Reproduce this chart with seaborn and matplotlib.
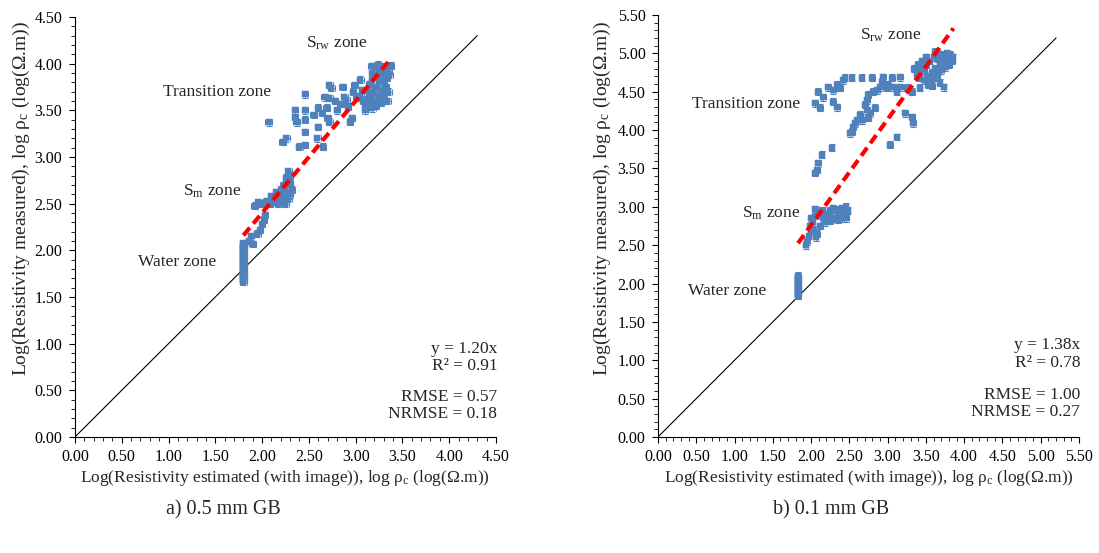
import matplotlib
matplotlib.use("Agg")
import matplotlib.pyplot as plt
from matplotlib.ticker import MultipleLocator, FormatStrFormatter
import seaborn as sns
import pandas as pd

sns.set_style("ticks")
plt.rcParams['font.family'] = ['Liberation Serif', 'DejaVu Serif']
plt.rcParams['mathtext.fontset'] = 'custom'
plt.rcParams['mathtext.rm'] = 'Liberation Serif'
plt.rcParams['mathtext.it'] = 'Liberation Serif:italic'

BLUE = '#4F81BD'

# ---------------- Panel a) 0.5 mm GB ----------------
a_water_x = [1.80] * 22
a_water_y = [1.66, 1.68, 1.70, 1.72, 1.74, 1.76, 1.78, 1.80, 1.82, 1.84, 1.86,
             1.88, 1.90, 1.92, 1.94, 1.96, 1.98, 2.00, 2.02, 2.04, 2.06, 2.08]

a_sm_x = [1.86, 1.90, 1.88, 1.95, 1.98, 2.00, 2.02, 2.03, 1.92, 1.96, 2.00, 2.05,
          2.08, 2.12, 2.15, 2.10, 2.18, 2.20, 2.22, 2.25, 2.28, 2.20, 2.23, 2.25,
          2.27, 2.30, 2.28, 2.24, 2.30, 2.32, 2.18, 2.15, 2.30, 2.26, 2.22, 2.17]
a_sm_y = [2.10, 2.07, 2.15, 2.18, 2.22, 2.28, 2.33, 2.38, 2.48, 2.52, 2.50, 2.53,
          2.50, 2.52, 2.55, 2.58, 2.60, 2.55, 2.52, 2.50, 2.55, 2.65, 2.70, 2.68,
          2.75, 2.80, 2.85, 2.62, 2.60, 2.65, 2.58, 2.62, 2.72, 2.78, 2.57, 2.50]

a_tr_x = [2.07, 2.46, 2.35, 2.46, 2.35, 2.46, 2.37, 2.46, 2.22, 2.26, 2.40, 2.46,
          2.59, 2.65, 2.60, 2.60, 2.64, 2.69, 2.70, 2.72, 2.80, 2.67, 2.72, 2.72,
          2.74, 2.86, 2.88, 2.90, 2.94, 2.96, 2.92, 2.97, 2.99, 3.05, 3.07, 3.01,
          3.10, 3.12, 2.84, 2.78, 2.55]
a_tr_y = [3.37, 3.67, 3.50, 3.50, 3.43, 3.40, 3.37, 3.27, 3.16, 3.20, 3.11, 3.13,
          3.20, 3.11, 3.32, 3.53, 3.47, 3.53, 3.42, 3.38, 3.50, 3.64, 3.63, 3.77,
          3.74, 3.75, 3.64, 3.61, 3.38, 3.42, 3.54, 3.70, 3.77, 3.83, 3.72, 3.64,
          3.50, 3.58, 3.57, 3.60, 3.45]

a_rw_x = [3.10, 3.12, 3.15, 3.18, 3.20, 3.22, 3.25, 3.28, 3.30, 3.20, 3.22, 3.25,
          3.28, 3.30, 3.32, 3.25, 3.28, 3.22, 3.18, 3.15, 3.30, 3.33, 3.35, 3.38,
          3.32, 3.27, 3.15, 3.12, 3.20, 3.24, 3.35, 3.30, 3.18, 3.08, 3.05, 3.17,
          3.18, 3.36, 3.26, 3.34]
a_rw_y = [3.55, 3.62, 3.58, 3.65, 3.60, 3.55, 3.62, 3.68, 3.72, 3.70, 3.75, 3.80,
          3.85, 3.90, 3.95, 3.92, 3.97, 3.88, 3.82, 3.78, 3.80, 3.85, 3.92, 3.98,
          3.75, 3.58, 3.68, 3.72, 3.95, 3.99, 3.70, 3.62, 3.52, 3.60, 3.65, 3.97,
          3.90, 3.88, 3.66, 3.60]

a_fit_x = [1.80, 3.35]
a_slope = 1.20
a_diag = [0.0, 4.30]
a_stats = ["y = 1.20x", "R² = 0.91", "RMSE = 0.57", "NRMSE = 0.18"]
a_max = 4.5
a_caption = "a) 0.5 mm GB"

# ---------------- Panel b) 0.1 mm GB ----------------
b_water_x = [1.83] * 14
b_water_y = [1.84, 1.86, 1.88, 1.90, 1.92, 1.94, 1.96, 1.98, 2.00, 2.02, 2.04,
             2.06, 2.08, 2.10]

b_sm_x = [1.95, 1.97, 2.00, 1.98, 2.02, 2.00, 2.05, 2.08, 2.10, 2.05, 2.12, 2.15,
          2.18, 2.20, 2.22, 2.25, 2.28, 2.32, 2.35, 2.38, 2.40, 2.42, 2.45, 2.48,
          2.45, 2.40, 2.35, 2.30, 2.15, 2.03, 2.06, 2.08, 1.93, 2.12, 2.25, 2.46]
b_sm_y = [2.55, 2.62, 2.68, 2.75, 2.80, 2.85, 2.88, 2.92, 2.95, 2.97, 2.90, 2.85,
          2.80, 2.85, 2.90, 2.95, 2.98, 2.96, 2.92, 2.95, 2.98, 2.93, 2.90, 2.95,
          3.00, 2.85, 2.83, 2.85, 2.95, 2.70, 2.60, 2.65, 2.50, 2.75, 2.82, 2.85]

b_tr_x = [2.05, 2.12, 2.09, 2.16, 2.22, 2.29, 2.29, 2.34, 2.34, 2.38, 2.42, 2.44,
          2.53, 2.66, 2.80, 2.94, 2.93, 2.90, 2.86, 2.81, 2.75, 2.73, 2.71, 2.73,
          2.64, 2.67, 2.60, 2.55, 2.54, 2.51, 2.58, 2.75, 2.77, 2.84, 2.99, 3.01,
          3.07, 3.12, 3.16, 3.16, 3.06, 3.25, 3.32, 3.23, 3.32, 3.33, 3.12, 3.03,
          2.27, 2.14, 2.09, 2.08, 2.05]
b_tr_y = [4.35, 4.29, 4.50, 4.43, 4.56, 4.52, 4.37, 4.30, 4.59, 4.55, 4.65, 4.68,
          4.68, 4.68, 4.68, 4.69, 4.63, 4.56, 4.52, 4.50, 4.46, 4.39, 4.33, 4.26,
          4.20, 4.13, 4.13, 4.04, 3.98, 3.96, 4.09, 4.16, 4.22, 4.29, 4.55, 4.59,
          4.56, 4.50, 4.69, 4.56, 4.68, 4.55, 4.50, 4.22, 4.17, 4.09, 3.91, 3.81,
          3.77, 3.68, 3.57, 3.48, 3.44]

b_rw_x = [3.40, 3.45, 3.50, 3.55, 3.60, 3.65, 3.70, 3.75, 3.80, 3.78, 3.72, 3.68,
          3.62, 3.58, 3.52, 3.48, 3.42, 3.38, 3.55, 3.60, 3.65, 3.70, 3.75, 3.80,
          3.50, 3.45, 3.40, 3.35, 3.62, 3.58, 3.68, 3.73, 3.53, 3.42, 3.82, 3.77,
          3.66, 3.48, 3.85, 3.84]
b_rw_y = [4.75, 4.80, 4.85, 4.90, 4.95, 5.00, 4.98, 4.95, 4.92, 5.00, 4.90, 4.85,
          4.80, 4.75, 4.70, 4.65, 4.68, 4.72, 4.62, 4.68, 4.72, 4.78, 4.82, 4.85,
          4.95, 4.90, 4.85, 4.80, 5.02, 4.58, 4.62, 4.56, 4.59, 4.55, 4.98, 4.88,
          4.93, 4.78, 4.95, 4.90]

b_fit_x = [1.83, 3.86]
b_slope = 1.38
b_diag = [0.0, 5.20]
b_stats = ["y = 1.38x", "R² = 0.78", "RMSE = 1.00", "NRMSE = 0.27"]
b_max = 5.5
b_caption = "b) 0.1 mm GB"

XLABEL = r"Log(Resistivity estimated (with image)), log ρ$_\mathrm{c}$ (log(Ω.m))"
YLABEL = r"Log(Resistivity measured), log ρ$_\mathrm{c}$ (log(Ω.m))"

fig = plt.figure(figsize=(10.99, 5.53), dpi=100)
axA = fig.add_axes([0.0682, 0.2098, 0.3831, 0.7595])
axB = fig.add_axes([0.5987, 0.2098, 0.3831, 0.7631])


def draw(ax, parts, fit_x, slope, diag, stats, vmax, xerr, yerr, labels, stat_y,
         ylab_xy):
    xs, ys = [], []
    for px, py in parts:
        xs += px
        ys += py
    df = pd.DataFrame({'x': xs, 'y': ys})
    # 1:1 line
    sns.lineplot(x=diag, y=diag, ax=ax, color='black', lw=0.8, zorder=1)
    ax.errorbar(df['x'], df['y'], xerr=xerr, yerr=yerr, fmt='none',
                ecolor=BLUE, elinewidth=0.8, capsize=2, capthick=0.8, zorder=2)
    sns.scatterplot(data=df, x='x', y='y', ax=ax, marker='s', s=20,
                    color=BLUE, edgecolor=BLUE, linewidth=0.3, zorder=3)
    fy = [slope * v for v in fit_x]
    sns.lineplot(x=fit_x, y=fy, ax=ax, color='#FF0000', lw=3,
                 linestyle=(0, (2.4, 1.3)), zorder=4)
    ax.set_xlim(0, vmax)
    ax.set_ylim(0, vmax)
    ax.xaxis.set_major_locator(MultipleLocator(0.5))
    ax.yaxis.set_major_locator(MultipleLocator(0.5))
    ax.xaxis.set_minor_locator(MultipleLocator(0.1))
    ax.yaxis.set_minor_locator(MultipleLocator(0.1))
    ax.xaxis.set_major_formatter(FormatStrFormatter('%.2f'))
    ax.yaxis.set_major_formatter(FormatStrFormatter('%.2f'))
    ax.tick_params(which='major', direction='out', length=4, width=0.8,
                   labelsize=11.5, colors='black', pad=5)
    ax.tick_params(which='minor', direction='out', length=3, width=0.6, colors='black')
    for s in ['top', 'right']:
        ax.spines[s].set_visible(False)
    for s in ['left', 'bottom']:
        ax.spines[s].set_color('black')
        ax.spines[s].set_linewidth(0.8)
    ax.set_xlabel(XLABEL, fontsize=12.5, labelpad=2)
    ax.set_ylabel(YLABEL, fontsize=14, labelpad=0)
    ax.yaxis.set_label_coords(*ylab_xy)
    for (tx, ty, txt, ha) in labels:
        ax.text(tx, ty, txt, fontsize=12.5, ha=ha, va='center')
    for yy, txt in zip(stat_y, stats):
        ax.text(1.003, yy, txt, transform=ax.transAxes, ha='right', va='center',
                fontsize=12.5)
    if ax.get_legend() is not None:
        ax.get_legend().remove()


draw(axA,
     [(a_water_x, a_water_y), (a_sm_x, a_sm_y), (a_tr_x, a_tr_y), (a_rw_x, a_rw_y)],
     a_fit_x, a_slope, a_diag, a_stats, a_max, 0.035, 0.035,
     [(2.47, 4.22, r"S$_\mathrm{rw}$ zone", 'left'),
      (0.94, 3.70, "Transition zone", 'left'),
      (1.15, 2.63, r"S$_\mathrm{m}$ zone", 'left'),
      (0.67, 1.88, "Water zone", 'left')],
     [0.21, 0.169, 0.095, 0.055], (-0.101, 0.567))

draw(axB,
     [(b_water_x, b_water_y), (b_sm_x, b_sm_y), (b_tr_x, b_tr_y), (b_rw_x, b_rw_y)],
     b_fit_x, b_slope, b_diag, b_stats, b_max, 0.035, 0.045,
     [(2.64, 5.24, r"S$_\mathrm{rw}$ zone", 'left'),
      (0.44, 4.34, "Transition zone", 'left'),
      (1.10, 2.92, r"S$_\mathrm{m}$ zone", 'left'),
      (0.39, 1.90, "Water zone", 'left')],
     [0.218, 0.175, 0.100, 0.059], (-0.108, 0.565))

fig.text(223 / 1099, 1 - 510 / 553, a_caption, ha='center', va='center', fontsize=14.5)
fig.text(831 / 1099, 1 - 510 / 553, b_caption, ha='center', va='center', fontsize=14.5)

fig.savefig("out.png", dpi=100)
